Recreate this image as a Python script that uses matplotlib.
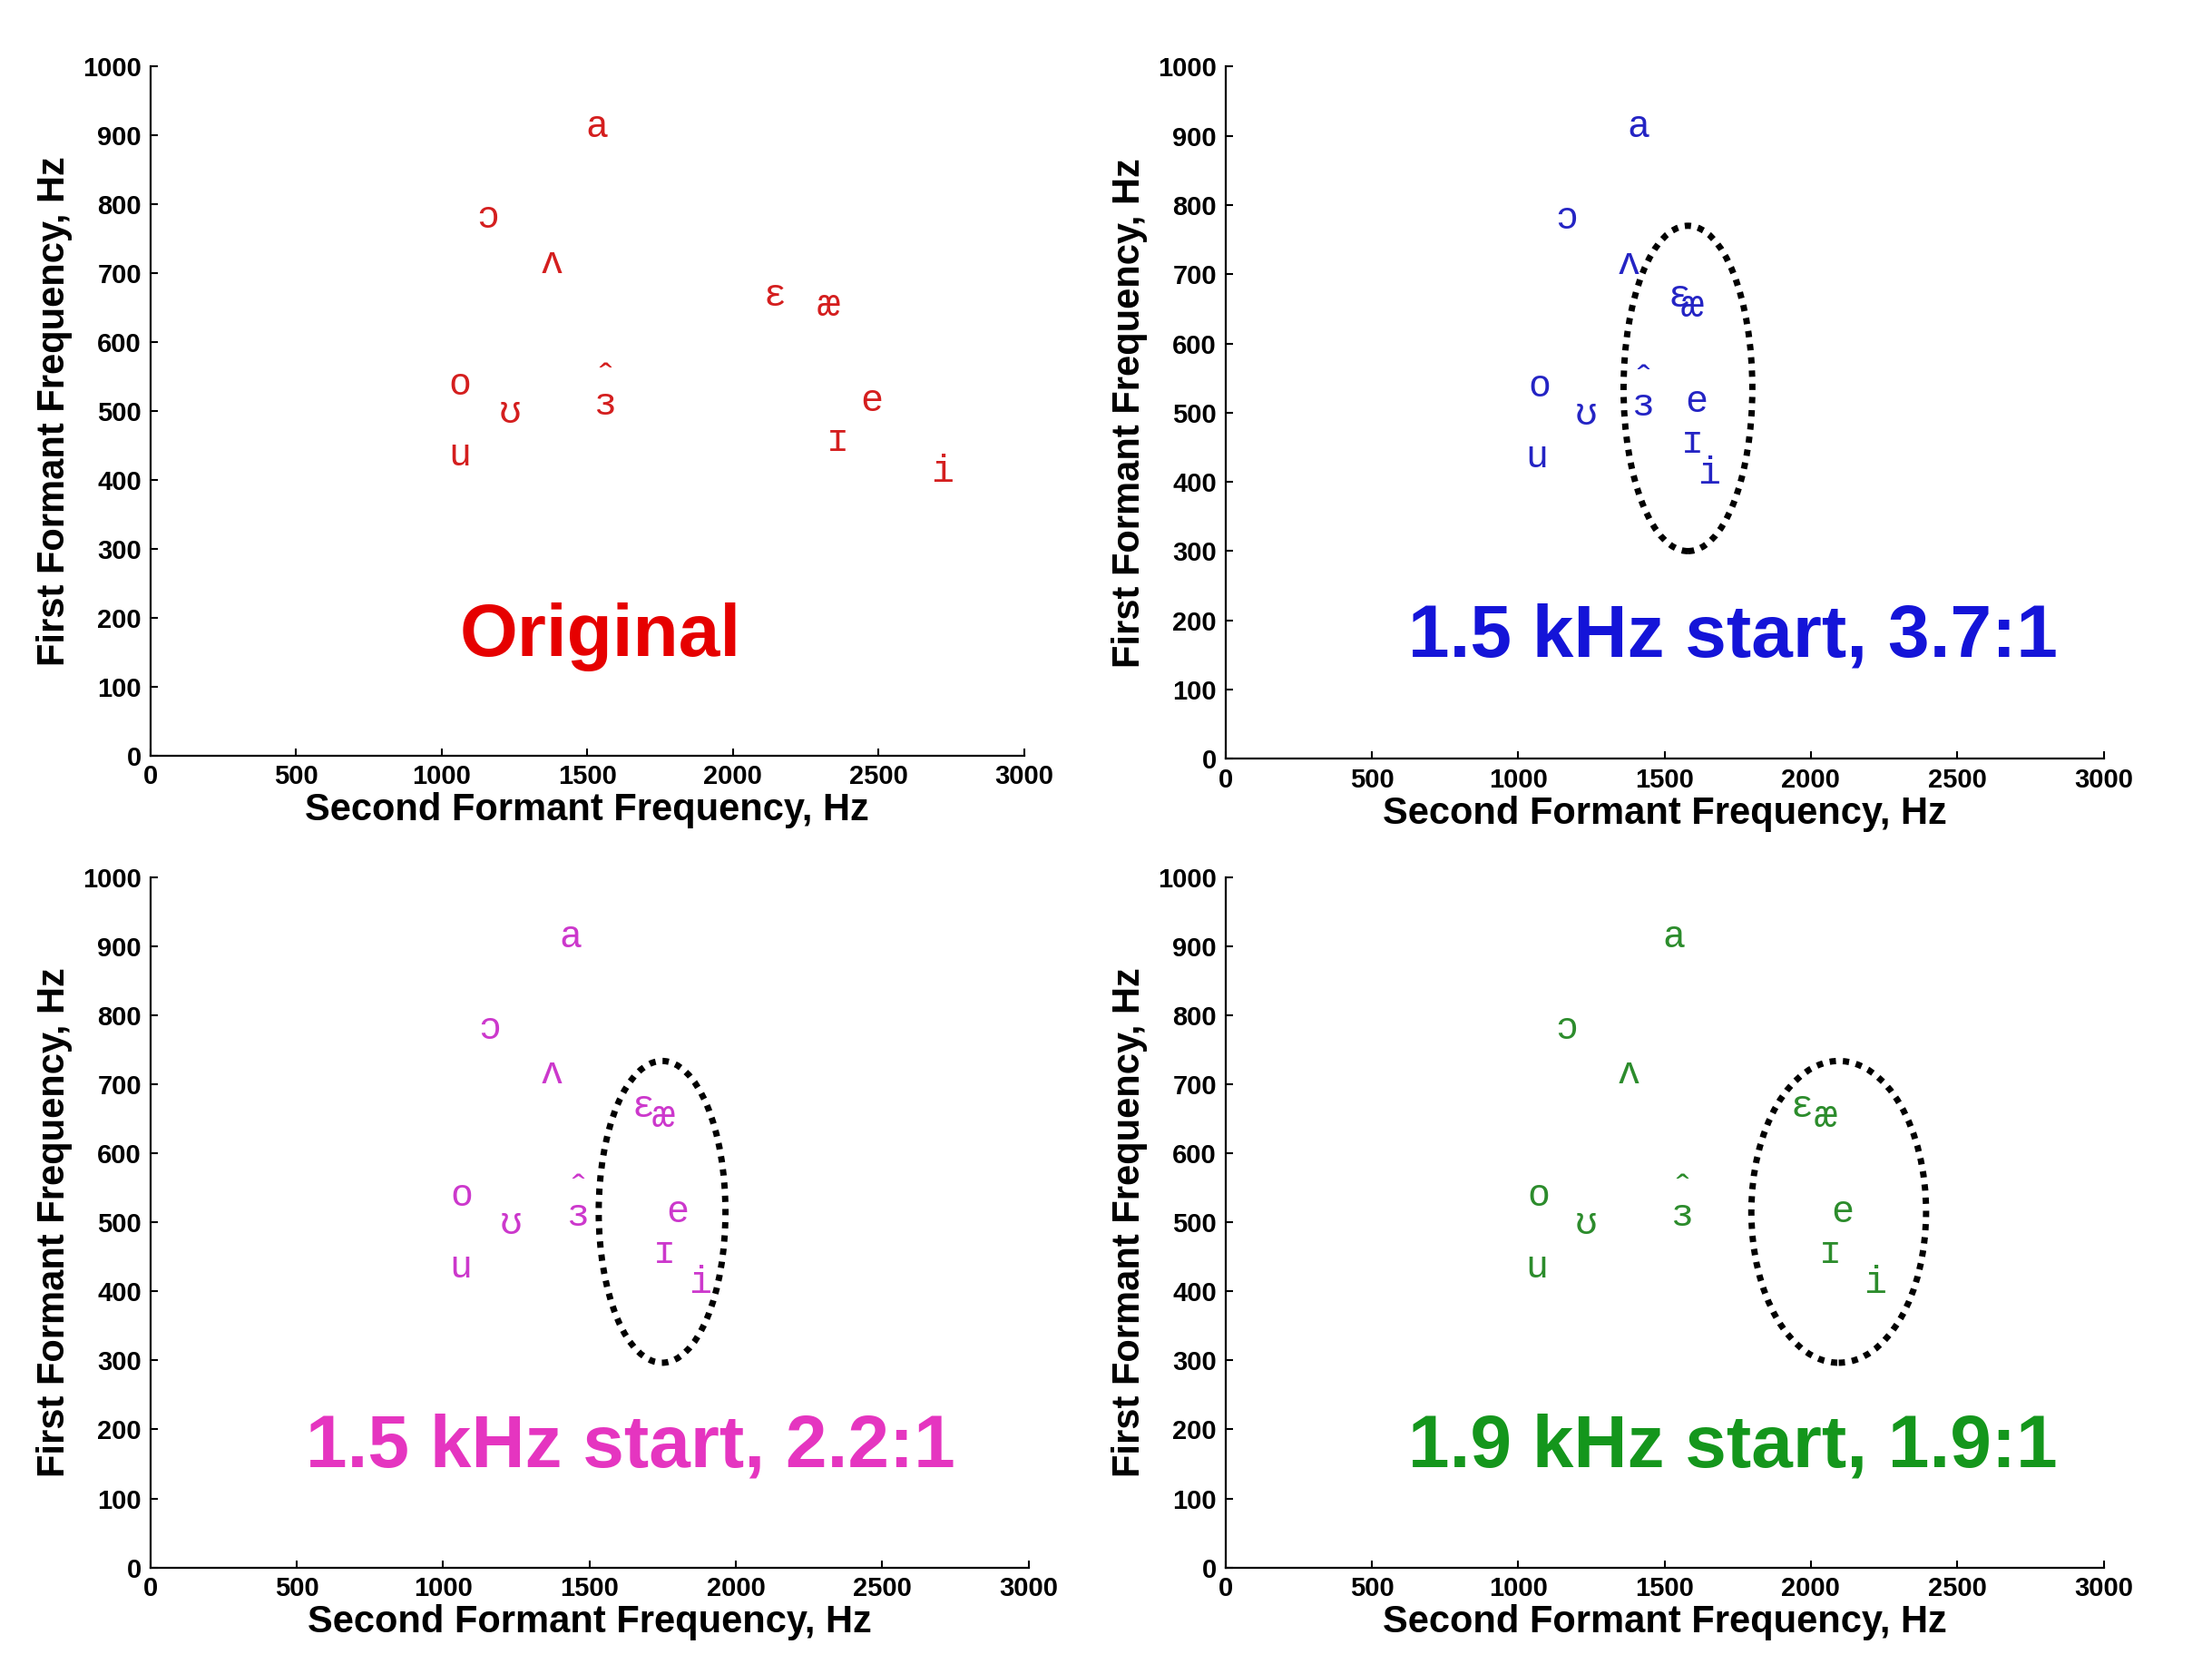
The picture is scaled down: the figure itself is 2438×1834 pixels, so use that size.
import numpy as np
import matplotlib.pyplot as plt
from matplotlib.patches import Ellipse

# vocales (simbolos IPA) y formantes
vocales = ['a', 'ɔ', 'ʌ', 'ɛ', 'æ', 'o', 'ʊ', 'ˆ\nɜ', 'e', 'ɪ', 'u', 'i']
f1 = [912, 780, 715, 667, 653, 538, 497, 527, 515, 456, 435, 412]

f2_original = [1532, 1158, 1377, 2143, 2327, 1062, 1236, 1561, 2477, 2361, 1062, 2719]
f2_15k_37 = [1411, 1165, 1377, 1550, 1594, 1074, 1233, 1425, 1608, 1594, 1064, 1651]
f2_15k_22 = [1435, 1160, 1372, 1685, 1753, 1064, 1233, 1459, 1801, 1757, 1059, 1877]
f2_19k_19 = [1531, 1165, 1377, 1969, 2051, 1069, 1233, 1560, 2109, 2066, 1064, 2220]

titulos = ['Original', '1.5 kHz start, 3.7:1', '1.5 kHz start, 2.2:1', '1.9 kHz start, 1.9:1']
titulo_x = [1546, 1733, 1639, 1733]
titulo_y = [172, 176, 173, 173]

# elipses (centro F2, centro F1, ancho, alto); None = sin elipse
elipses = [None, (1580, 535, 440, 470), (1748, 515, 433, 437), (2095, 515, 597, 437)]

colores_titulo = ['#E60000', '#1414D8', '#E535C0', '#14961C']
colores_vocal = ['#D41E1E', '#2424C4', '#CC38CC', '#2C8C2C']

xticks = np.arange(0, 3001, 500)
yticks = np.arange(0, 1001, 100)

fuente = ['Liberation Sans', 'DejaVu Sans']
fuente_vocal = ['Liberation Mono', 'DejaVu Sans Mono']

posiciones = [[0.068, 0.546, 0.395, 0.414],
              [0.554, 0.544, 0.397, 0.416],
              [0.068, 0.058, 0.397, 0.415],
              [0.554, 0.058, 0.397, 0.415]]

datos_f2 = [f2_original, f2_15k_37, f2_15k_22, f2_19k_19]

fig = plt.figure(figsize=(24.38, 18.34), dpi=100)

for k in range(4):
    ax = fig.add_axes(posiciones[k])
    ax.set_xlim(0, 3000)
    ax.set_ylim(0, 1000)
    ax.set_xticks(xticks)
    ax.set_yticks(yticks)
    ax.spines['top'].set_visible(False)
    ax.spines['right'].set_visible(False)
    for s in ['left', 'bottom']:
        ax.spines[s].set_linewidth(1.6)
    ax.tick_params(direction='in', length=6, width=1.5, pad=7)
    for lab in ax.get_xticklabels() + ax.get_yticklabels():
        lab.set_family(fuente)
        lab.set_fontweight('bold')
        lab.set_fontsize(21)
    ax.set_xlabel('Second Formant Frequency, Hz', family=fuente, fontweight='bold',
                  fontsize=30, labelpad=2)
    ax.set_ylabel('First Formant Frequency, Hz', family=fuente, fontweight='bold',
                  fontsize=30, labelpad=8)

    # vocales
    for v, x, y in zip(vocales, datos_f2[k], f1):
        ax.text(x, y, v, family=fuente_vocal, fontsize=30, color=colores_vocal[k],
                ha='center', va='center', linespacing=0.55)

    if elipses[k] is not None:
        cx, cy, w, h = elipses[k]
        ax.add_patch(Ellipse((cx, cy), w, h, fill=False, edgecolor='black',
                             linewidth=5, linestyle=(0, (1, 1.1))))

    ax.text(titulo_x[k], titulo_y[k], titulos[k], family=fuente, fontweight='bold',
            fontsize=59, color=colores_titulo[k], ha='center', va='center')

plt.savefig('out.png', dpi=100)
